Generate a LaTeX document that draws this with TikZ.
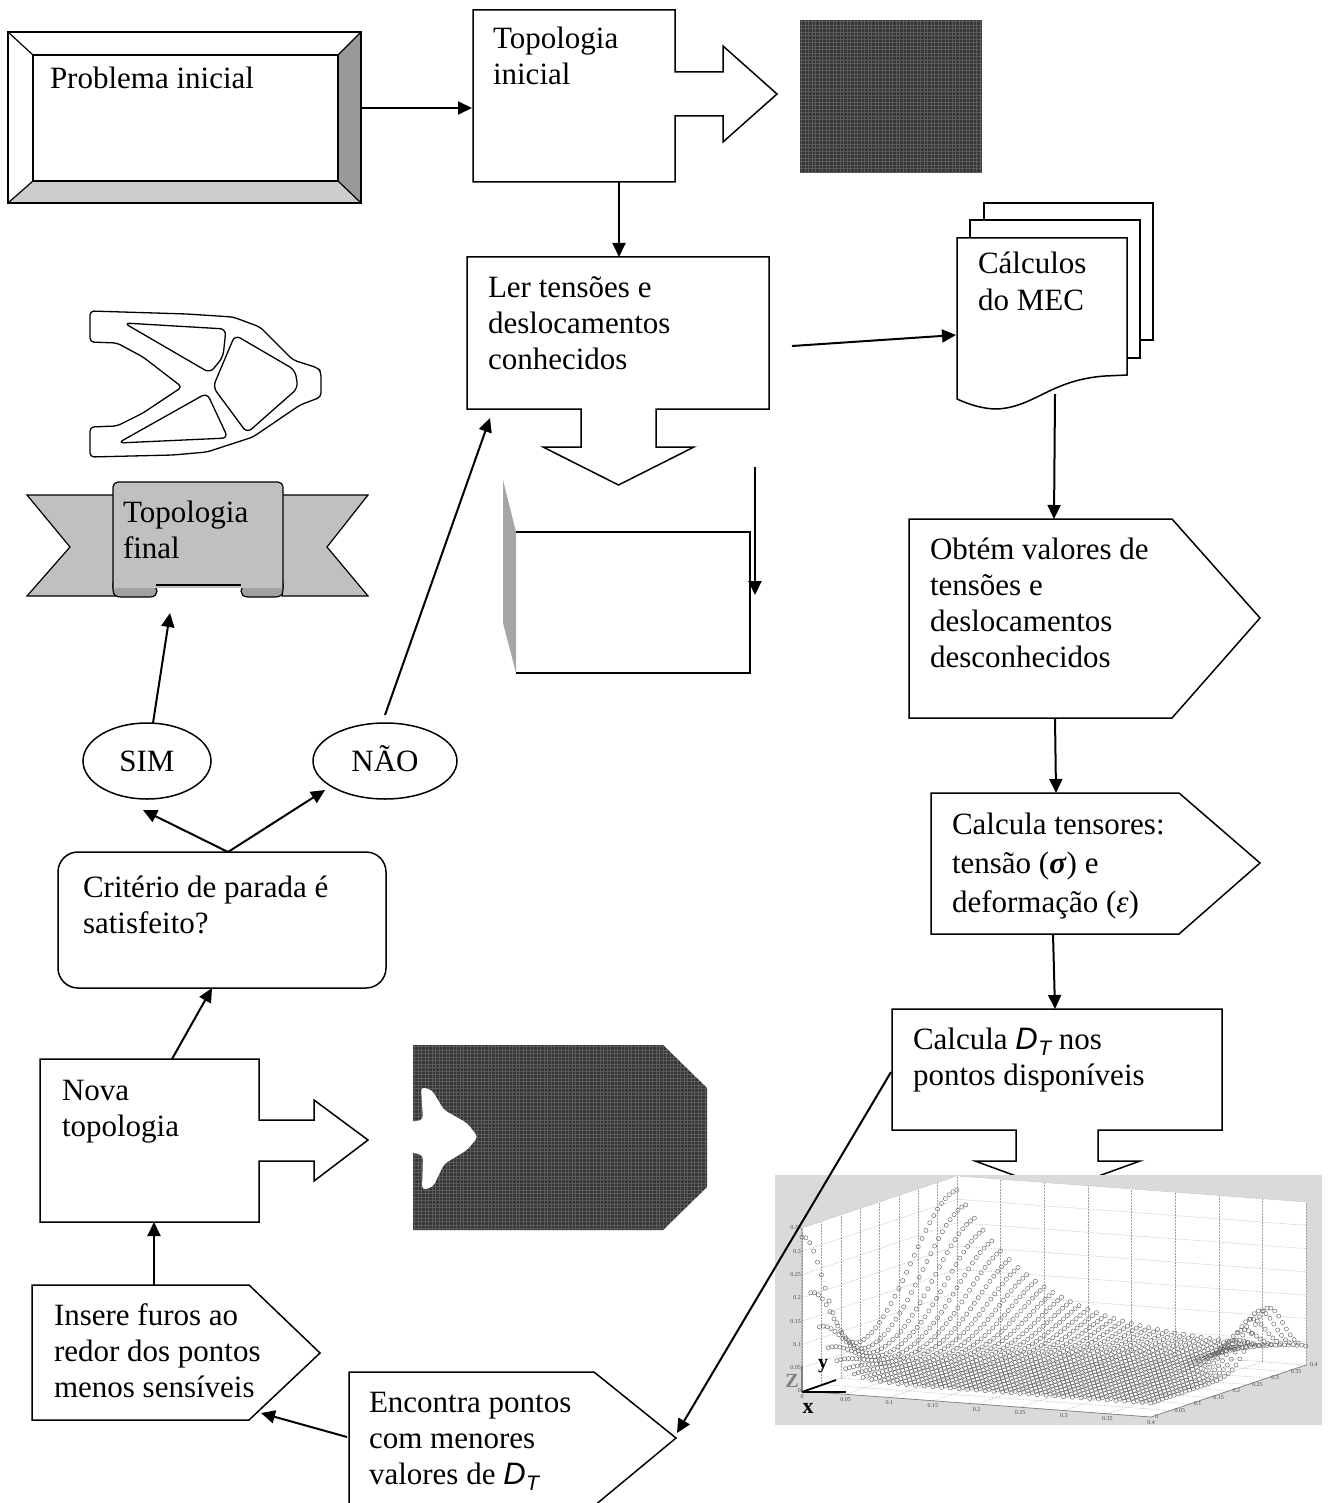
\documentclass[tikz,border=0pt]{standalone}
\usepackage{fontspec}
\setmainfont{Liberation Serif}
\newfontfamily\arialfont{Liberation Sans}
\usetikzlibrary{arrows.meta,shapes.geometric}
\definecolor{bevdark}{HTML}{999999}
\definecolor{bevlight}{HTML}{CCCCCC}
\definecolor{ribbon}{HTML}{C0C0C0}
\definecolor{curlgray}{HTML}{A0A0A0}
\definecolor{sidegray}{HTML}{A6A6A6}
\definecolor{meshdark}{HTML}{363636}
\definecolor{meshline}{HTML}{5C5C5C}
\definecolor{plotbg}{HTML}{DADADA}
\newcommand{\DTsym}{{\arialfont\itshape D\kern0.5pt\raisebox{-0.22em}{\fontsize{21}{21}\selectfont T}}}
\begin{document}
\begin{tikzpicture}[x=1pt,y=-1pt,
  shp/.style={draw=black,line width=1.5pt,fill=white,line join=miter},
  arr/.style={draw=black,line width=2pt,-{Triangle[length=14pt,width=13pt]}},
  txt/.style={anchor=north west,inner sep=0pt,outer sep=0pt,align=left,yshift=25.2pt,font=\fontsize{31}{36}\selectfont},
  gridl/.style={draw=gray!75,line width=0.5pt,densely dotted},
  dotc/.style={draw=black!60,line width=0.45pt},
  tick/.style={font=\fontsize{6}{6}\selectfont,inner sep=1pt,text=black!70},
  oval/.style={draw=black,line width=1.5pt,ellipse,inner sep=0pt,minimum height=76pt,text height=20.5pt,text depth=0pt,font=\fontsize{31}{36}\selectfont},
]
\useasboundingbox (0,0) rectangle (1332,1503);
\fill[white] (0,0) rectangle (1332,1503);

%% Problema inicial (bevel)
\fill[bevdark] (361,32) -- (361,203) -- (338,181) -- (338,55) -- cycle;
\fill[bevlight] (8,203) -- (361,203) -- (338,181) -- (33,181) -- cycle;
\draw[line width=1.5pt] (8,32) rectangle (361,203);
\draw[line width=1.5pt] (33,55) rectangle (338,181);
\draw[line width=1.2pt] (8,32) -- (33,55) (361,32) -- (338,55) (8,203) -- (33,181) (361,203) -- (338,181);
\node[txt] (probtxt) at (50,89) {\strut Problema inicial};
\coordinate (probR) at (361,108);

%% Topologia inicial (arrow callout right)
\draw[shp] (473,10) -- (675,10) -- (675,72) -- (723,72) -- (723,46) -- (777,94) -- (723,142) -- (723,116) -- (675,116) -- (675,182) -- (473,182) -- cycle;
\node[txt] (topotxt) at (493,49) {\strut Topologia\\inicial};
\coordinate (topoL) at (472,108);
\coordinate (topoB) at (619,182);

%% mesh image 1
\fill[meshdark] (800,20) rectangle (982,172);
\foreach \k in {0,...,51} \draw[meshline,line width=0.5pt] ({801.5+\k*3.5},20) -- ({801.5+\k*3.5},172);
\foreach \k in {0,...,43} \draw[meshline,line width=0.5pt] (800,{21.5+\k*3.5}) -- (982,{21.5+\k*3.5});

%% Ler tensoes (arrow callout down)
\draw[shp] (467,257) -- (769,257) -- (769,409) -- (656,409) -- (656,447) -- (694,447) -- (618.5,485) -- (543,447) -- (581,447) -- (581,409) -- (467,409) -- cycle;
\node[txt] (lertxt) at (488,297) {\strut Ler tensões e\\deslocamentos\\conhecidos};
\coordinate (lerT) at (619,257);
\coordinate (lerR) at (792,346);
\coordinate (lerBL) at (490,418);

%% box with gray side
\fill[sidegray] (503,480) -- (516,532) -- (516,673) -- (503,623) -- cycle;
\draw[line width=1.5pt] (516,532) -- (750,532) -- (750,673) -- (516,673);
\coordinate (strayA) at (755,467);
\coordinate (strayB) at (755,595);

%% Calculos do MEC (multidocument)
\draw[shp] (984,203) rectangle (1153,340);
\draw[shp] (970,220) rectangle (1140,358);
\draw[shp] (957,238) -- (1127,238) -- (1127,375) -- (1105,376) .. controls (1050,380) and (1035,407) .. (997,409) .. controls (982,409) and (968,404) .. (957,399) -- cycle;
\node[txt] (calctxt) at (978,274) {\strut Cálculos\\do MEC};
\coordinate (calcL) at (956,335);
\coordinate (calcB) at (1055,394);

%% Obtem valores (pentagon)
\draw[shp] (909,519) -- (1172,519) -- (1260,618) -- (1172,718) -- (909,718) -- cycle;
\node[txt] (obttxt) at (930,559) {\strut Obtém valores de\\tensões e\\deslocamentos\\desconhecidos};
\coordinate (obtT) at (1054,519);
\coordinate (obtB) at (1055,718);

%% Calcula tensores (pentagon)
\draw[shp] (931,793) -- (1179,793) -- (1260,863) -- (1179,934) -- (931,934) -- cycle;
\node[txt,yshift=2.1pt,font=\fontsize{31}{39}\selectfont] (tenstxt) at (952,834) {\strut Calcula tensores:\\tensão (\textbf{\textit{σ}}) e\\deformação (\textit{ε})};
\coordinate (tensT) at (1056,793);
\coordinate (tensB) at (1053,934);

%% Calcula D_T (arrow callout down)
\draw[shp] (892,1009) -- (1222,1009) -- (1222,1130) -- (1098,1130) -- (1098,1161) -- (1140,1161) -- (1057,1191) -- (975,1161) -- (1016,1161) -- (1016,1130) -- (892,1130) -- cycle;
\node[txt] (dttxt) at (913,1049) {\strut Calcula \DTsym{} nos\\pontos disponíveis};
\coordinate (dtT) at (1055,1009);
\coordinate (dtL) at (891,1072);

%% 3D plot image
\fill[plotbg] (775,1175) rectangle (1322,1425);
\begin{scope}[shift={(802,1391)},x={(872.5pt,-65pt)},y={(387.5pt,130pt)},z={(0pt,465.7pt)}]
  \fill[white] (0,0.4,0) -- (0.4,0.4,0) -- (0.4,0.4,0.35) -- (0,0.4,0.35) -- cycle;
  \fill[white] (0,0,0) -- (0,0.4,0) -- (0,0.4,0.35) -- (0,0,0.35) -- cycle;
  \fill[white] (0,0,0) -- (0.4,0,0) -- (0.4,0.4,0) -- (0,0.4,0) -- cycle;
  \foreach \k in {0,...,8}{
    \pgfmathsetmacro\t{\k*0.05}
    \draw[gridl] (\t,0.4,0) -- (\t,0.4,0.35);
    \draw[gridl] (0,\t,0) -- (0,\t,0.35);
    \draw[gridl] (\t,0,0) -- (\t,0.4,0);
    \draw[gridl] (0,\t,0) -- (0.4,\t,0);
  }
  \foreach \k in {1,...,7}{
    \pgfmathsetmacro\t{\k*0.05}
    \draw[gridl] (0,0.4,\t) -- (0.4,0.4,\t);
    \draw[gridl] (0,0,\t) -- (0,0.4,\t);
  }
  \draw[gray,line width=0.7pt] (0,0,0.35) -- (0,0,0) -- (0.4,0,0) -- (0.4,0.4,0);
  \foreach \t/\l in {0/0,0.05/0.05,0.1/0.1,0.15/0.15,0.2/0.2,0.25/0.25,0.3/0.3,0.35/0.35,0.4/0.4}{
    \node[tick,anchor=north] at (\t,0,0) [yshift=-2pt] {\l};
    \node[tick,anchor=west] at (0.4,\t,0) [xshift=3pt] {\l};
  }
  \foreach \t/\l in {0/0,0.05/0.05,0.1/0.1,0.15/0.15,0.2/0.2,0.25/0.25,0.3/0.3,0.35/0.35}{
    \node[tick,anchor=east] at (0,0,\t) {\l};
  }
  \foreach \i in {0,...,40}{
    \foreach \j in {0,...,40}{
      \pgfmathsetmacro\uu{\i*0.01}
      \pgfmathsetmacro\vv{\j*0.01}
      \pgfmathsetmacro\aa{0.30*exp(max(-9,-pow(\vv/0.08,2)))+0.29*exp(max(-9,-pow((\vv-0.4)/0.16,2)))}
      \pgfmathsetmacro\ww{0.03+\aa*exp(max(-9,-\uu/(0.02+0.07*pow(\vv/0.4,2))))+0.12*exp(max(-9,-(pow((\uu-0.4)/0.04,2)+pow((\vv-0.3)/0.06,2))))}
      \draw[dotc] (\uu,\vv,\ww) circle[radius=2.1pt];
    }
  }
\end{scope}
\draw[gray,line width=1.5pt] (802,1392) -- (802,1366);
\draw[black,line width=1.8pt] (802,1392) -- (846,1392);
\draw[black,line width=1.8pt] (802,1392) -- (836,1380);
\node[font=\bfseries\fontsize{20}{20}\selectfont,inner sep=0pt] (ylab) at (823,1366) {y};
\node[font=\bfseries\fontsize{20}{20}\selectfont,text=gray,inner sep=0pt] (zlab) at (792,1381) {Z};
\node[font=\bfseries\fontsize{22}{22}\selectfont,inner sep=0pt] (xlab) at (808,1408) {x};

%% Encontra pontos (pentagon, cut by page bottom)
\draw[shp] (349,1372) -- (594,1372) -- (676,1438) -- (594,1506) -- (349,1506) -- cycle;
\node[txt] (enctxt) at (369,1412) {\strut Encontra pontos\\com menores\\valores de \DTsym};
\coordinate (encTip) at (677,1433);
\coordinate (encL) at (347,1437);

%% Insere furos (pentagon)
\draw[shp] (32,1285) -- (249,1285) -- (320,1353) -- (249,1420) -- (32,1420) -- cycle;
\node[txt] (instxt) at (54,1325) {\strut Insere furos ao\\redor dos pontos\\menos sensíveis};
\coordinate (insT) at (154,1285);
\coordinate (insR) at (261,1413);

%% Nova topologia (arrow callout right)
\draw[shp] (40,1059) -- (259,1059) -- (259,1120) -- (314,1120) -- (314,1100) -- (368,1140) -- (314,1181) -- (314,1161) -- (259,1161) -- (259,1222) -- (40,1222) -- cycle;
\node[txt] (novatxt) at (62,1100) {\strut Nova\\topologia};
\coordinate (novaB) at (154,1222);
\coordinate (novaT) at (172,1059);

%% mesh image 2
\def\meshtwo{(413,1045) -- (663,1045) -- (707,1088) -- (707,1187) -- (663,1230) -- (413,1230) -- cycle}
\fill[meshdark] \meshtwo;
\begin{scope}
  \clip \meshtwo;
  \foreach \k in {0,...,84} \draw[meshline,line width=0.5pt] ({414.5+\k*3.5},1045) -- ({414.5+\k*3.5},1230);
  \foreach \k in {0,...,53} \draw[meshline,line width=0.5pt] (413,{1046.5+\k*3.5}) -- (707,{1046.5+\k*3.5});
\end{scope}
\fill[white,rounded corners=4pt] (409,1122) -- (423,1120) -- (421,1087) -- (432,1090) -- (444,1110) -- (467,1123) -- (478,1137) -- (467,1150) -- (444,1164) -- (433,1187) -- (422,1190) -- (423,1155) -- (409,1152) -- cycle;

%% Criterio de parada
\draw[line width=1.5pt,rounded corners=20pt,fill=white] (58,852) rectangle (386,988);
\node[txt] (crittxt) at (83,897) {\strut Critério de parada é\\satisfeito?};
\coordinate (critT) at (228,852);
\coordinate (critB) at (212,988);

%% SIM / NAO
\node[oval,minimum width=128pt] (sim) at (147,761) {SIM};
\node[oval,minimum width=144pt] (nao) at (385,761) {NÃO};
\coordinate (simArr) at (143,810);
\coordinate (naoArr) at (325,790);
\coordinate (simT) at (153,723);
\coordinate (naoT) at (385,715);

%% Topologia final: structure outline
\draw[line width=1.3pt,rounded corners=4pt] (90,311) -- (187,314) -- (233,317) -- (260,327) -- (293,360) -- (318,368) -- (321,372) -- (321,397) -- (300,405) -- (253,437) -- (207,452) -- (173,455) -- (90,457) -- (90,427) -- (117,426) -- (143,413) -- (182,387) -- (143,357) -- (117,343) -- (90,342) -- cycle;
\draw[line width=1.3pt,rounded corners=6pt] (124,323) -- (226,329) -- (223,357) -- (210,373) -- cycle;
\draw[line width=1.3pt,rounded corners=6pt] (235,335) -- (295,370) -- (298,388) -- (247,433) -- (213,387) -- cycle;
\draw[line width=1.3pt,rounded corners=6pt] (207,393) -- (228,438) -- (118,443) -- cycle;

%% Topologia final: ribbon banner
\draw[line width=1.2pt,fill=ribbon] (27,495) -- (116,495) -- (116,596) -- (27,596) -- (70,547) -- cycle;
\draw[line width=1.2pt,fill=ribbon] (282,495) -- (368,495) -- (327,547) -- (368,596) -- (282,596) -- cycle;
\draw[line width=1.2pt,fill=curlgray] (113,583) -- (113,590) .. controls (113,595) and (116,597) .. (121,597) -- (150,597) .. controls (155,597) and (157,594) .. (157,591) .. controls (157,588) and (155,585) .. (150,585) -- (113,585);
\draw[line width=1.2pt,fill=curlgray] (283,583) -- (283,590) .. controls (283,595) and (280,597) .. (275,597) -- (248,597) .. controls (243,597) and (241,594) .. (241,591) .. controls (241,588) and (243,585) .. (248,585) -- (283,585);
\draw[line width=1.2pt,fill=ribbon,rounded corners=5pt] (113,588) -- (113,482) -- (283,482) -- (283,588);
\fill[ribbon] (114.5,580) rectangle (281.5,584.5);
\draw[line width=1.2pt] (156,585) -- (241,585);
\node[txt] (finaltxt) at (123,522) {\strut Topologia\\final};
\coordinate (finalB) at (170,613);

%% connectors
\draw[arr] (probR) -- (topoL);
\draw[arr] (topoB) -- (lerT);
\draw[arr] (lerR) -- (calcL);
\draw[arr] (calcB) -- (obtT);
\draw[arr] (obtB) -- (tensT);
\draw[arr] (tensB) -- (dtT);
\draw[arr] (dtL) -- (encTip);
\draw[arr] (encL) -- (insR);
\draw[arr] (insT) -- (novaB);
\draw[arr] (novaT) -- (critB);
\draw[arr] (critT) -- (simArr);
\draw[arr] (critT) -- (naoArr);
\draw[arr] (simT) -- (finalB);
\draw[arr] (naoT) -- (lerBL);
\draw[arr] (strayA) -- (strayB);
\end{tikzpicture}
\end{document}
